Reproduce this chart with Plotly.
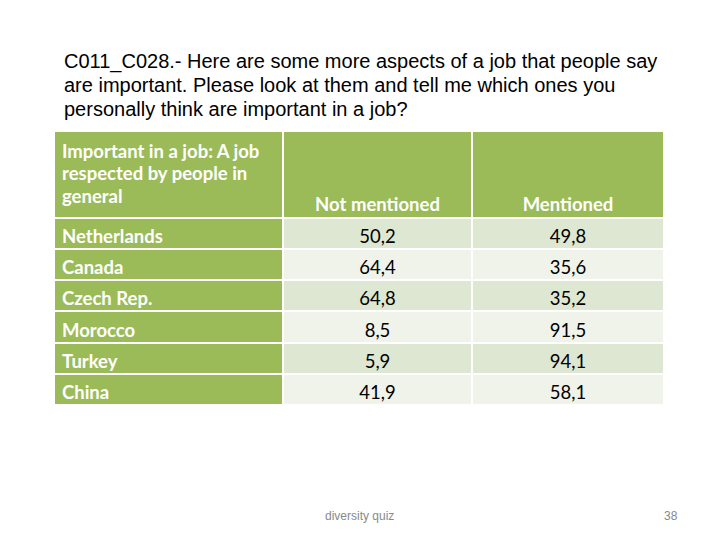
import plotly.graph_objects as go

countries = ["Netherlands", "Canada", "Czech Rep.", "Morocco", "Turkey", "China"]
not_mentioned = ["50,2", "64,4", "64,8", "8,5", "5,9", "41,9"]
mentioned = ["49,8", "35,6", "35,2", "91,5", "94,1", "58,1"]
header_first_lines = ["Important in a job: A job", "respected by people in", "general"]
column_headers = ["Not mentioned", "Mentioned"]
title_lines = ["C011_C028.- Here are some more aspects of a job that people say",
               "are important. Please look at them and tell me which ones you",
               "personally think are important in a job?"]
footer_text = "diversity quiz"
page_number = "38"

# ---- styling / layout (px) ----
GREEN = "#9BBB59"
BAND1 = "#DEE7D1"
BAND2 = "#EFF3EA"
FONT = "Lato"
FS = 18.5
W, H = 712, 532          # page has 8px body margin
col_w = [229, 189, 192]
header_h = 86
row_h = 31
pad_left = 8
text_shift = 5

col_edges = [0]
for w in col_w:
    col_edges.append(col_edges[-1] + w)
row_edges = [0, header_h]
for _ in countries:
    row_edges.append(row_edges[-1] + row_h)
col_centers = [(col_edges[i] + col_edges[i + 1]) / 2 for i in range(len(col_w))]
row_centers = [(row_edges[i + 1] + row_edges[i + 2]) / 2 for i in range(len(countries))]

# colour codes: 0 green, 1 band1, 2 band2
z = [[0, 0, 0]]
for i in range(len(countries)):
    b = 1 if i % 2 == 0 else 2
    z.append([0, b, b])

fig = go.Figure()
fig.add_trace(go.Heatmap(
    x=col_edges, y=row_edges, z=z, zmin=0, zmax=2,
    colorscale=[[0, GREEN], [0.333, GREEN], [0.334, BAND1], [0.666, BAND1],
                [0.667, BAND2], [1, BAND2]],
    xgap=2, ygap=2, showscale=False, hoverinfo="skip",
))

# header, first column (left aligned, 3 lines)
fig.add_trace(go.Scatter(
    x=[pad_left] * len(header_first_lines), y=[22, 44.5, 67],
    text=[f"<b>{t}</b>" for t in header_first_lines],
    mode="text", textposition="middle right",
    textfont=dict(family=FONT, size=FS, color="white"), hoverinfo="skip",
))
# header, value columns (bottom, centered)
fig.add_trace(go.Scatter(
    x=col_centers[1:], y=[75] * len(column_headers),
    text=[f"<b>{t}</b>" for t in column_headers],
    mode="text", textposition="middle center",
    textfont=dict(family=FONT, size=FS, color="white"), hoverinfo="skip",
))
# row labels
fig.add_trace(go.Scatter(
    x=[pad_left] * len(countries), y=[r + text_shift for r in row_centers],
    text=[f"<b>{c}</b>" for c in countries],
    mode="text", textposition="middle right",
    textfont=dict(family=FONT, size=FS, color="white"), hoverinfo="skip",
))
# values
for ci, vals in ((1, not_mentioned), (2, mentioned)):
    fig.add_trace(go.Scatter(
        x=[col_centers[ci]] * len(vals), y=[r + text_shift for r in row_centers],
        text=vals, mode="text", textposition="middle center",
        textfont=dict(family=FONT, size=FS, color="black"), hoverinfo="skip",
    ))

# title lines
for y_pg, line in zip([61.5, 85.5, 109], title_lines):
    fig.add_annotation(text=line, x=54 / W, y=1 - (y_pg - 8) / H, xref="paper", yref="paper",
                       xanchor="left", yanchor="middle", showarrow=False,
                       font=dict(family="Liberation Sans", size=20, color="black"))
fig.add_annotation(text=footer_text, x=351.5 / W, y=1 - 508 / H, xref="paper", yref="paper",
                   xanchor="center", yanchor="middle", showarrow=False,
                   font=dict(family="Liberation Sans", size=12, color="#898989"))
fig.add_annotation(text=page_number, x=663 / W, y=1 - 508 / H, xref="paper", yref="paper",
                   xanchor="center", yanchor="middle", showarrow=False,
                   font=dict(family="Liberation Sans", size=12, color="#898989"))

fig.update_layout(
    width=W, height=H, margin=dict(l=0, r=0, t=0, b=0),
    paper_bgcolor="white", plot_bgcolor="white", showlegend=False,
    xaxis=dict(domain=[46 / W, 656 / W], range=[0, col_edges[-1]], visible=False,
               fixedrange=True),
    yaxis=dict(domain=[1 - 397 / H, 1 - 123 / H], range=[row_edges[-1], 0],
               visible=False, fixedrange=True),
)
fig.write_html("out.html", config={"displayModeBar": False})
